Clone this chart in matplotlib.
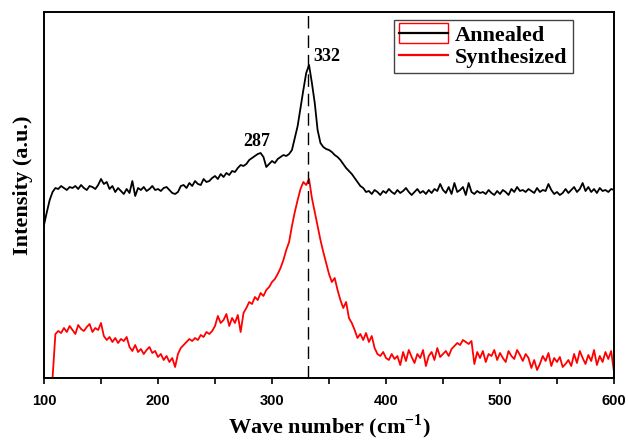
import numpy as np
import matplotlib
matplotlib.use("Agg")
import matplotlib.pyplot as plt
from matplotlib.patches import Rectangle
from matplotlib.lines import Line2D
from matplotlib.legend_handler import HandlerTuple, HandlerPatch
from matplotlib.ticker import MultipleLocator

plt.rcParams["mathtext.fontset"] = "custom"
plt.rcParams["mathtext.rm"] = "Liberation Serif:bold"
plt.rcParams["mathtext.bf"] = "Liberation Serif:bold"

wavenumber = np.arange(100, 600.1, 2.5)

annealed = [
    153, 166, 178, 186, 190, 189, 192, 190, 188, 191,
    190, 192, 189, 193, 190, 188, 192, 191, 189, 193,
    199, 194, 196, 189, 192, 186, 190, 187, 184, 189,
    185, 197, 182, 190, 188, 191, 187, 189, 192, 188,
    189, 187, 190, 191, 188, 185, 184, 186, 192, 193,
    190, 195, 192, 197, 194, 193, 199, 196, 197, 200,
    202, 199, 204, 201, 205, 203, 207, 206, 210, 213,
    212, 214, 218, 220, 222, 224, 225, 221, 211, 214,
    217, 215, 219, 221, 223, 222, 224, 228, 240, 252,
    270, 288, 305, 313, 295, 275, 248, 235, 231, 229,
    228, 226, 223, 221, 218, 214, 210, 207, 204, 200,
    196, 192, 190, 186, 187, 184, 188, 186, 183, 187,
    185, 189, 186, 184, 188, 185, 187, 190, 186, 183,
    186, 189, 185, 187, 184, 188, 185, 189, 187, 194,
    188, 185, 191, 184, 195, 186, 188, 191, 183, 195,
    186, 184, 187, 185, 186, 184, 188, 185, 183, 187,
    184, 188, 186, 183, 189, 186, 191, 187, 188, 186,
    189, 187, 185, 190, 186, 188, 187, 194, 188, 184,
    186, 183, 185, 189, 185, 188, 191, 186, 189, 195,
    187, 191, 186, 189, 185, 190, 187, 188, 186, 189,
    188,
]

nan = np.nan
synthesized = [
    nan, nan, nan, 0, 44, 47, 45, 50, 46, 52,
    48, 44, 53, 49, 47, 51, 54, 46, 50, 48,
    55, 42, 38, 41, 36, 40, 35, 39, 37, 41,
    31, 27, 33, 26, 29, 24, 28, 31, 25, 27,
    21, 24, 18, 22, 16, 20, 11, 24, 30, 33,
    36, 39, 37, 40, 38, 43, 41, 46, 44, 47,
    52, 62, 55, 58, 64, 52, 60, 55, 63, 46,
    65, 70, 76, 74, 81, 78, 85, 82, 88, 91,
    96, 99, 104, 110, 118, 128, 136, 152, 166, 178,
    189, 196, 193, 199, 180, 166, 152, 138, 126, 115,
    104, 96, 100, 88, 78, 70, 76, 60, 55, 48,
    40, 44, 38, 45, 36, 42, 30, 24, 22, 26,
    20, 18, 24, 19, 22, 13, 26, 17, 28, 21,
    15, 24, 20, 28, 12, 22, 26, 18, 30, 21,
    24, 27, 22, 29, 32, 35, 33, 38, 36, 34,
    37, 14, 26, 20, 27, 16, 24, 22, 28, 18,
    25, 20, 16, 27, 22, 19, 28, 23, 17, 24,
    20, 10, 18, 8, 14, 22, 17, 25, 12, 20,
    16, 21, 11, 14, 18, 12, 24, 15, 27, 20,
    14, 23, 17, 28, 13, 22, 16, 26, 19, 27,
    6,
]

peak_positions = [287, 332]
peak_label_pos = [(287, 237), (348, 322)]
series_labels = ["Annealed", "Synthesized"]

serif = ["Liberation Serif", "DejaVu Serif"]
sans = ["Liberation Sans", "DejaVu Sans"]

fig = plt.figure(figsize=(6.28, 4.40), dpi=100)
ax = fig.add_axes([44 / 628, 62 / 440, 570 / 628, 366 / 440])

ax.plot(wavenumber, annealed, color="black", lw=1.3)
ax.plot(wavenumber, synthesized, color="#ff0000", lw=1.3)
ax.axvline(peak_positions[1], color="black", lw=1.0, ls=(0, (9, 5)))

for lab, (px, py) in zip(peak_positions, peak_label_pos):
    ax.text(px, py, str(lab), ha="center", va="center",
            fontsize=13, fontweight="bold", family=serif)

ax.set_xlim(100, 600)
ax.set_ylim(0, 366)
ax.xaxis.set_major_locator(MultipleLocator(100))
ax.xaxis.set_minor_locator(MultipleLocator(50))
ax.tick_params(axis="x", which="major", direction="out", length=4.5, width=1.2, pad=7)
ax.tick_params(axis="x", which="minor", direction="out", length=4.5, width=1.2)
ax.tick_params(axis="y", left=False, labelleft=False)
for lbl in ax.get_xticklabels():
    lbl.set_family(sans)
    lbl.set_fontweight("bold")
    lbl.set_fontsize(10.5)
for sp in ax.spines.values():
    sp.set_linewidth(1.4)

ax.set_xlabel("Wave number (cm$^{-1}$)", fontsize=16, fontweight="bold",
              family=serif, labelpad=3)
ax.set_ylabel("Intensity (a.u.)", fontsize=16, fontweight="bold", family=serif)
ax.yaxis.set_label_coords(-0.020, 0.527)


def tall_rect(legend, orig_handle, xdescent, ydescent, width, height, fontsize):
    return Rectangle((-xdescent, -ydescent - 0.15 * height), width, height * 1.3)


rect = Rectangle((0, 0), 1, 1, facecolor="none", edgecolor="#ff0000", lw=1.0)
h1 = (rect, Line2D([], [], color="black", lw=1.6))
h2 = Line2D([], [], color="#ff0000", lw=1.6)
leg = ax.legend([h1, h2], series_labels,
                handler_map={tuple: HandlerTuple(ndivide=1),
                             Rectangle: HandlerPatch(patch_func=tall_rect)},
                loc="upper right", bbox_to_anchor=(0.928, 0.978),
                borderaxespad=0, fancybox=False, framealpha=1,
                edgecolor="#444444", handlelength=2.2, handletextpad=0.3,
                labelspacing=0.05, borderpad=0.25,
                prop={"family": serif, "weight": "bold", "size": 16})
leg.get_frame().set_linewidth(1.0)

fig.savefig("out.png", dpi=100)
